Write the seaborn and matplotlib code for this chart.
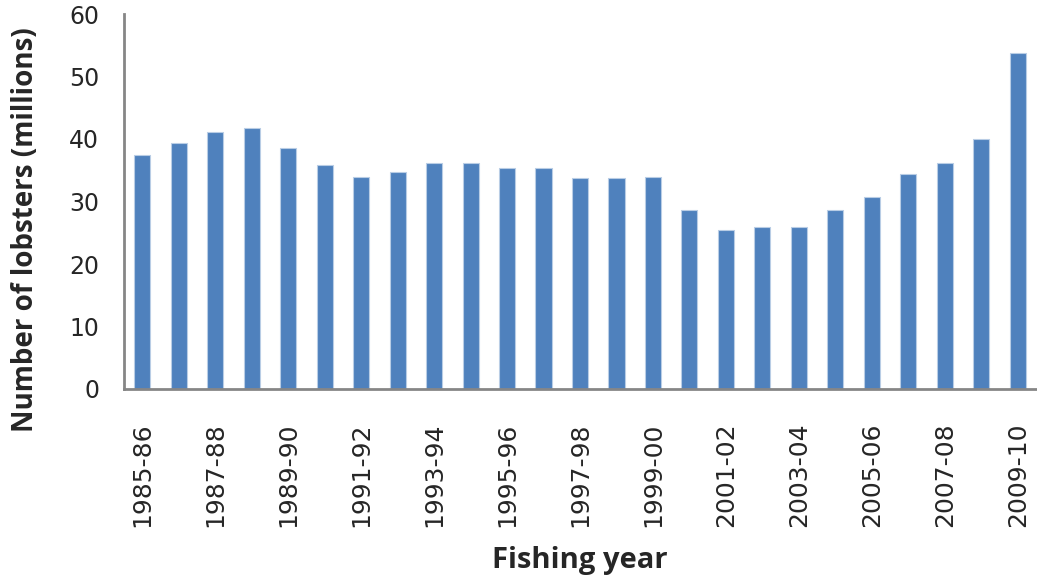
import matplotlib
matplotlib.use("Agg")
import matplotlib.pyplot as plt
import seaborn as sns
import numpy as np
import pandas as pd

years = ["1985-86", "1986-87", "1987-88", "1988-89", "1989-90", "1990-91",
         "1991-92", "1992-93", "1993-94", "1994-95", "1995-96", "1996-97",
         "1997-98", "1998-99", "1999-00", "2000-01", "2001-02", "2002-03",
         "2003-04", "2004-05", "2005-06", "2006-07", "2007-08", "2008-09",
         "2009-10"]
lobsters = [37.5, 39.3, 41.1, 41.8, 38.6, 35.8, 34.0, 34.7, 36.1, 36.1,
            35.4, 35.4, 33.7, 33.7, 34.0, 28.7, 25.5, 25.9, 25.9, 28.7,
            30.8, 34.4, 36.1, 40.0, 53.8]
y_ticks = [0, 10, 20, 30, 40, 50, 60]

df = pd.DataFrame({"year": years, "value": lobsters})

sns.set_theme(style="white")
plt.rcParams['font.family'] = ['Liberation Sans', 'DejaVu Sans']

fig = plt.figure(figsize=(10.37, 5.81), dpi=100)
ax = fig.add_axes([124/1037, 1 - 389/581, 912/1037, 375/581])

sns.barplot(data=df, x="year", y="value", color="#4F81BD", saturation=1,
            width=0.44, edgecolor="#B9CDE5", linewidth=0.8, ax=ax)

ax.set_xlim(-0.5, len(years) - 0.5)
ax.set_ylim(0, 60)
ax.set_yticks(y_ticks)
ax.set_yticklabels([str(v) for v in y_ticks], fontsize=17, family=['DejaVu Sans'])

ax.set_xticks(np.arange(0, len(years), 2))
ax.set_xticklabels(years[::2], rotation=90, fontsize=18, family=['DejaVu Sans'])
ax.tick_params(axis="x", which="major", length=0, pad=24)
ax.set_xticks(np.arange(-0.5, len(years), 1), minor=True)
ax.tick_params(axis="x", which="minor", length=10, width=2, color="#868686", direction="out")
ax.tick_params(axis="y", length=8, width=2, color="#868686", direction="out", pad=10)

for s in ["top", "right"]:
    ax.spines[s].set_visible(False)
for s in ["left", "bottom"]:
    ax.spines[s].set_color("#868686")
    ax.spines[s].set_linewidth(2)

ax.set_xlabel("Fishing year", fontsize=21, fontweight="bold", family=['Open Sans', 'DejaVu Sans'])
ax.xaxis.set_label_coords(0.5, (389 - 546) / 375)
ax.set_ylabel("Number of lobsters (millions)", fontsize=20, fontweight="bold", family=['Open Sans', 'DejaVu Sans'])
ax.yaxis.set_label_coords((40 - 124) / 912, (389 - 230) / 375)

fig.savefig("out.png", dpi=100)
